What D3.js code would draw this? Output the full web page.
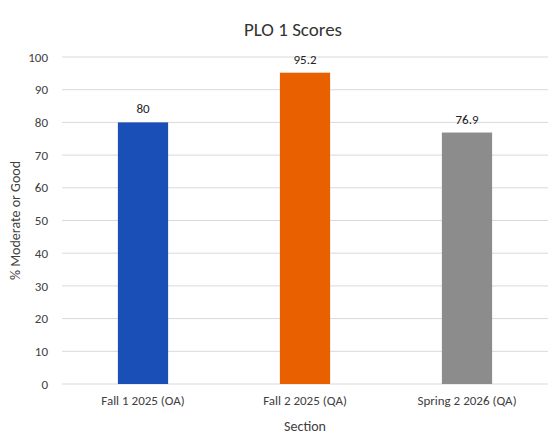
<!DOCTYPE html>
<html>
<head>
<meta charset="utf-8">
<script src="https://d3js.org/d3.v7.min.js"></script>
<style>
  body { margin: 0; background: #fff; }
  text { font-family: Calibri, Carlito, "Open Sans", sans-serif; }
</style>
</head>
<body>
<svg id="chart" width="555" height="444"></svg>
<script>
// chart data
var sections = ["Fall 1 2025 (OA)", "Fall 2 2025 (QA)", "Spring 2 2026 (QA)"];
var scores = [80, 95.2, 76.9];
var barColors = ["#1b4fb8", "#e86000", "#8c8c8c"];
var yTicks = [0, 10, 20, 30, 40, 50, 60, 70, 80, 90, 100];

var svg = d3.select("#chart");
var margin = {top: 57, right: 7, bottom: 60, left: 62};
var w = 555 - margin.left - margin.right;
var h = 444 - margin.top - margin.bottom;

var g = svg.append("g").attr("transform", "translate(" + margin.left + "," + margin.top + ")");

var x = d3.scaleBand().domain(sections).range([0, w]).paddingInner(0.69).paddingOuter(0.345);
var y = d3.scaleLinear().domain([0, 100]).range([h, 0]);

// gridlines
g.selectAll(".grid").data(yTicks).enter().append("line")
  .attr("x1", 0).attr("x2", w)
  .attr("y1", d => y(d)).attr("y2", d => y(d))
  .attr("stroke", "#d9d9d9").attr("stroke-width", 1);

// y tick labels
var yAxis = g.append("g").call(d3.axisLeft(y).tickValues(yTicks).tickSize(0).tickPadding(14));
yAxis.select(".domain").remove();
yAxis.selectAll("text").attr("font-size", 13).attr("fill", "#404040");

// x axis labels
var xAxis = g.append("g").attr("transform", "translate(0," + h + ")")
  .call(d3.axisBottom(x).tickSize(0).tickPadding(12));
xAxis.select(".domain").remove();
xAxis.selectAll("text").attr("font-size", 13).attr("fill", "#404040");

// bars
g.selectAll(".bar").data(scores).enter().append("rect")
  .attr("x", (d, i) => x(sections[i]))
  .attr("width", x.bandwidth())
  .attr("y", d => y(d))
  .attr("height", d => h - y(d))
  .attr("fill", (d, i) => barColors[i]);

// value labels
g.selectAll(".lbl").data(scores).enter().append("text")
  .attr("x", (d, i) => x(sections[i]) + x.bandwidth() / 2)
  .attr("y", d => y(d) - 9)
  .attr("text-anchor", "middle")
  .attr("font-size", 13).attr("fill", "#222")
  .text(d => d);

// titles
svg.append("text").attr("x", 293).attr("y", 36).attr("text-anchor", "middle")
  .attr("font-size", 19).attr("fill", "#333").text("PLO 1 Scores");
svg.append("text").attr("x", 305).attr("y", 431).attr("text-anchor", "middle")
  .attr("font-size", 14).attr("fill", "#404040").text("Section");
svg.append("text").attr("transform", "translate(20," + (margin.top + h / 2) + ") rotate(-90)")
  .attr("text-anchor", "middle").attr("font-size", 14).attr("fill", "#404040")
  .text("% Moderate or Good");
</script>
</body>
</html>
